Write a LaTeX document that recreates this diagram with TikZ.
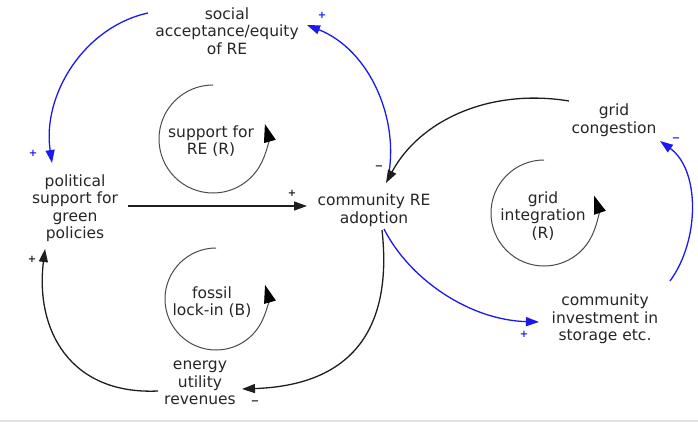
\documentclass[tikz,border=0pt]{standalone}
\usepackage{fontspec}
\setmainfont{DejaVu Sans}
\usetikzlibrary{arrows.meta}
\definecolor{txt}{HTML}{262626}
\definecolor{lnk}{HTML}{1E1E1E}
\definecolor{pos}{HTML}{1A1AF0}
\definecolor{loopc}{HTML}{4A4A4A}
\definecolor{rulec}{HTML}{E2E2E2}
\begin{document}
\begin{tikzpicture}[x=1pt,y=1pt,
  var/.style={align=center,text=txt,inner sep=0pt,font=\fontsize{15.5}{17.5}\selectfont},
  link/.style={draw=lnk,line width=1.3pt,-{Triangle[length=13pt,width=9pt]}},
  blink/.style={link,draw=pos},
  loopmark/.style={draw=loopc,line width=1pt,-{Triangle[length=18pt,width=12pt,color=black,fill=black]}},
  sign/.style={inner sep=0pt,text=lnk,font=\fontsize{10}{10}\selectfont\bfseries},
  bsign/.style={sign,text=pos}]
\useasboundingbox (0,0) rectangle (698,-422);
\draw[rulec,line width=1.5pt] (0,-421) -- (698,-421);

% variables
\node[var] (soc) at (227,-31) {social\\acceptance/equity\\of RE};
\node[var] (pol) at (75,-208) {political\\support for\\green\\policies};
\node[var] (cre) at (374,-210) {community RE\\adoption};
\node[var] (gc)  at (614,-120) {grid\\congestion};
\node[var] (inv) at (605,-319) {community\\investment in\\storage etc.};
\node[var] (eur) at (200,-383) {energy\\utility\\revenues};

% loop names
\node[var] (l1) at (211,-141) {support for\\RE (R)};
\node[var] (l2) at (212,-302) {fossil\\lock-in (B)};
\node[var] (l3) at (543,-216) {grid\\integration\\(R)};

% loop markers
\draw[loopmark] ([shift={(2,2)}]l1.center) ++(90:54) arc[start angle=90,end angle=376,radius=54];
\draw[loopmark] ([shift={(4,3)}]l2.center) ++(90:51) arc[start angle=90,end angle=376,radius=51];
\draw[loopmark] ([shift={(1,3)}]l3.center) ++(90:53) arc[start angle=90,end angle=379,radius=53];

% causal links
\draw[blink] ([shift={(-79,18)}]soc.center) .. controls +(-64,-14) and +(-10,68) .. ([shift={(-23,45)}]pol.center);
\draw[blink] ([shift={(14,32)}]cre.center) .. controls +(12,58) and +(63,-25) .. ([shift={(80,6)}]soc.center);
\draw[link] ([shift={(-45,19)}]gc.center) .. controls +(-79,13) and +(34,63) .. ([shift={(12,27)}]cre.center);
\draw[link] ([shift={(53,2)}]pol.center) -- ([shift={(-67,4)}]cre.center);
\draw[link] ([shift={(8,-20)}]cre.center) .. controls +(10,-90) and +(118,4) .. ([shift={(42,-6)}]eur.center);
\draw[link] ([shift={(-42,-8)}]eur.center) .. controls +(-88,-4) and +(-10,-81) .. ([shift={(-30,-41)}]pol.center);
\draw[blink] ([shift={(10,-19)}]cre.center) .. controls +(26,-51) and +(-69,2) .. ([shift={(-66,-3)}]inv.center);
\draw[blink] ([shift={(65,38)}]inv.center) .. controls +(30,41) and +(40,-29) .. ([shift={(46,-21)}]gc.center);

% link polarities
\node[bsign] (p1) at (33,-153) {+};
\node[bsign] (p2) at (322,-15) {+};
\node[bsign] (p3) at (524,-334) {+};
\node[sign]  (p4) at (292,-193) {+};
\node[sign]  (p5) at (32,-259) {+};
\node[sign]  (m1) at (379,-168) {−};
\node[sign]  (m2) at (255,-403) {−};
\node[bsign] (m3) at (676,-140) {−};
\end{tikzpicture}
\end{document}
